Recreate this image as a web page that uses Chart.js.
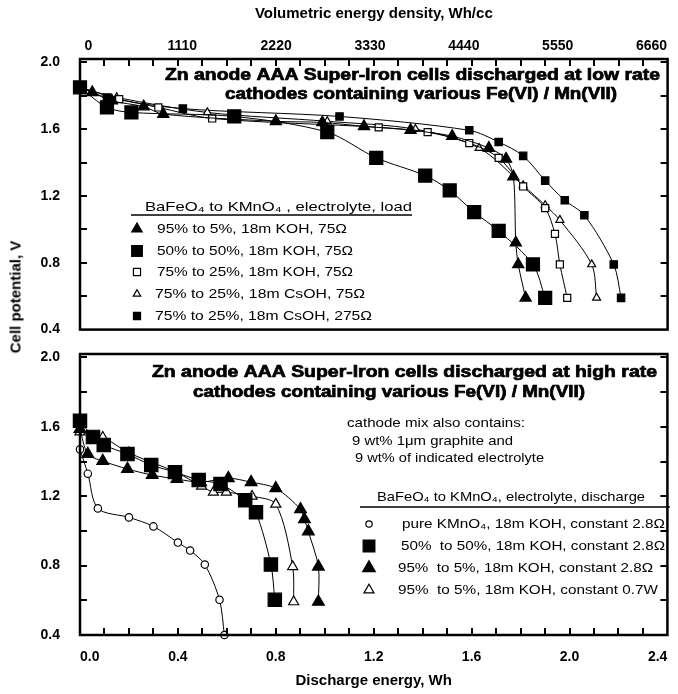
<!DOCTYPE html>
<html>
<head>
<meta charset="utf-8">
<title>Zn anode AAA Super-Iron cells</title>
<script src="https://cdn.jsdelivr.net/npm/chart.js@4.4.1/dist/chart.umd.min.js"></script>
<style>
  html, body { margin: 0; padding: 0; background: #fff; }
  #page { position: relative; width: 678px; height: 694px; overflow: hidden; }
  #page canvas { position: absolute; left: 0; }
  #ylabel {
    position: absolute; left: 15px; top: 297px;
    transform: translate(-50%, -50%) rotate(-90deg);
    font: bold 15px 'Liberation Sans', Arial, sans-serif;
    white-space: nowrap; color: #000;
  }
</style>
</head>
<body>
<div id="page">
  <canvas id="lowRate" width="678" height="340" style="top:0"></canvas>
  <canvas id="highRate" width="678" height="354" style="top:340px"></canvas>
  <div id="ylabel">Cell potential, V</div>
</div>
<script>
// Axis tick labels
const energyTicks = [0, 0.4, 0.8, 1.2, 1.6, 2.0, 2.4];
const volumetricTicks = [0, 1110, 2220, 3330, 4440, 5550, 6660];
const potentialTicks = [0.4, 0.8, 1.2, 1.6, 2.0];

// Top panel: discharged at low rate (energy in Wh, potential in V)
const lowLabels = [
    '95% to 5%, 18m KOH, 75Ω',
    '50% to 50%, 18m KOH, 75Ω',
    '75% to 25%, 18m KOH, 75Ω',
    '75% to 25%, 18m CsOH, 75Ω',
    '75% to 25%, 18m CsOH, 275Ω'
];
const low95KOH_E = [0, 0.05, 0.13, 0.26, 0.34, 0.80, 0.99, 1.16, 1.35, 1.52, 1.67, 1.74, 1.77, 1.78, 1.79, 1.82];
const low95KOH_V = [1.85, 1.82, 1.77, 1.735, 1.69, 1.647, 1.64, 1.617, 1.594, 1.558, 1.487, 1.422, 1.316, 0.92, 0.79, 0.59];
const low50KOH_E = [0, 0.11, 0.21, 0.63, 1.01, 1.21, 1.41, 1.51, 1.61, 1.71, 1.85, 1.90];
const low50KOH_V = [1.85, 1.73, 1.70, 1.676, 1.582, 1.428, 1.322, 1.233, 1.103, 0.991, 0.79, 0.59];
const low75KOH_E = [0, 0.16, 0.32, 0.54, 1.22, 1.42, 1.59, 1.71, 1.81, 1.90, 1.94, 1.96, 1.99];
const low75KOH_V = [1.85, 1.78, 1.73, 1.664, 1.611, 1.582, 1.517, 1.428, 1.257, 1.127, 0.973, 0.79, 0.59];
const low75CsOH_E = [0, 0.15, 0.52, 1.01, 1.37, 1.63, 1.81, 1.90, 1.96, 2.09, 2.11];
const low75CsOH_V = [1.85, 1.79, 1.70, 1.647, 1.60, 1.487, 1.263, 1.144, 1.056, 0.79, 0.59];
const low75CsOH275_E = [0, 0.11, 0.42, 1.06, 1.59, 1.71, 1.81, 1.90, 1.98, 2.06, 2.18, 2.21];
const low75CsOH275_V = [1.85, 1.79, 1.723, 1.676, 1.593, 1.523, 1.44, 1.292, 1.174, 1.085, 0.79, 0.59];

// Bottom panel: discharged at high rate
const highLabels = [
    'pure KMnO₄, 18m KOH, constant 2.8Ω',
    '50%  to 50%, 18m KOH, constant 2.8Ω',
    '95%  to 5%, 18m KOH, constant 2.8Ω',
    '95%  to 5%, 18m KOH, constant 0.7W'
];
const highPure_E = [0, 0.032, 0.073, 0.20, 0.30, 0.40, 0.45, 0.51, 0.57, 0.59];
const highPure_V = [1.47, 1.33, 1.13, 1.078, 1.026, 0.933, 0.887, 0.806, 0.603, 0.40];
const high50_E = [0, 0.053, 0.097, 0.194, 0.291, 0.388, 0.485, 0.574, 0.675, 0.719, 0.78, 0.796];
const high50_V = [1.635, 1.542, 1.496, 1.443, 1.38, 1.339, 1.293, 1.27, 1.177, 1.107, 0.806, 0.603];
const high95_E = [0, 0.032, 0.093, 0.194, 0.295, 0.396, 0.493, 0.606, 0.699, 0.80, 0.901, 0.917, 0.933, 0.974, 0.974];
const high95_V = [1.588, 1.443, 1.403, 1.357, 1.322, 1.299, 1.281, 1.304, 1.281, 1.246, 1.125, 1.067, 0.997, 0.794, 0.591];
const high95W_E = [0, 0.093, 0.20, 0.39, 0.497, 0.545, 0.598, 0.703, 0.80, 0.869, 0.873];
const high95W_V = [1.57, 1.54, 1.45, 1.34, 1.258, 1.223, 1.223, 1.20, 1.154, 0.794, 0.591];

const FONT = "'Liberation Sans', Arial, Helvetica, sans-serif";

// marker looks (r = plot radius, lr = legend radius)
const lowStyles = [
    { style: 'triangle', r: 6.5, lr: 6, fill: '#000' },
    { style: 'rect', r: 9.2, lr: 7.5, fill: '#000' },
    { style: 'rect', r: 5, lr: 5, fill: '#fff' },
    { style: 'triangle', r: 4.6, lr: 4.3, fill: '#fff' },
    { style: 'rect', r: 5.2, lr: 5, fill: '#000' }
];
const highStyles = [
    { style: 'circle', r: 3.7, lr: 3.2, fill: '#fff' },
    { style: 'rect', r: 9.4, lr: 8.3, fill: '#000' },
    { style: 'triangle', r: 6.8, lr: 7.3, fill: '#000' },
    { style: 'triangle', r: 5.8, lr: 5.8, fill: '#fff' }
];

// minor tick positions for the inward tick marks
const minorEnergy = [];
for (let i = 1; i < 24; i++) minorEnergy.push(i / 10);
const minorPotential = [];
for (let i = 3; i <= 10; i++) minorPotential.push(i / 5);

function series(E, V, st) {
    return {
        data: E.map((x, i) => ({ x: x, y: V[i] })),
        showLine: true,
        borderColor: '#000',
        borderWidth: 1,
        tension: 0.3,
        pointStyle: st.style,
        pointRadius: st.r,
        pointHoverRadius: st.r,
        pointBackgroundColor: st.fill,
        pointBorderColor: '#000',
        pointBorderWidth: 1.2,
        clip: false
    };
}

function fitText(ctx, text, x, y, w, font, heavy) {
    ctx.save();
    ctx.font = font;
    ctx.textAlign = 'left';
    ctx.textBaseline = 'middle';
    ctx.fillStyle = '#000';
    const m = ctx.measureText(text).width;
    ctx.translate(x, y);
    ctx.scale(w / m, 1);
    ctx.fillText(text, 0, 0);
    if (heavy) {
        ctx.strokeStyle = '#000';
        ctx.lineWidth = heavy;
        ctx.strokeText(text, 0, 0);
    }
    ctx.restore();
}

function marker(ctx, st, x, y) {
    ctx.save();
    ctx.fillStyle = st.fill;
    ctx.strokeStyle = '#000';
    ctx.lineWidth = 1.2;
    Chart.helpers.drawPoint(ctx, { pointStyle: st.style, radius: st.lr, rotation: 0, borderWidth: 1.2 }, x, y);
    ctx.restore();
}

// pixel of a value on a scale, with a fallback from the scale's own bounds
function scalePx(s, v, horizontal) {
    let p = s.getPixelForValue(v);
    if (!isFinite(p)) {
        const f = (v - s.min) / (s.max - s.min);
        p = horizontal ? s.left + f * (s.right - s.left) : s.bottom - f * (s.bottom - s.top);
    }
    return Math.round(p);
}

// inward tick marks on the panel edges
function makeEdgeTicks(edges) {
    return {
        id: 'edgeTicks',
        afterDatasetsDraw(chart) {
            const ctx = chart.ctx;
            const a = chart.chartArea;
            const sx = chart.scales.x;
            const sy = chart.scales.y;
            ctx.save();
            ctx.globalAlpha = 1;
            ctx.globalCompositeOperation = 'source-over';
            ctx.fillStyle = '#000000';
            for (const edge of edges) {
                if (edge === 'top' || edge === 'bottom') {
                    const y0 = edge === 'top' ? a.top : a.bottom - 7;
                    for (const v of minorEnergy) {
                        ctx.fillRect(scalePx(sx, v, true) - 1, y0, 2, 7);
                    }
                } else {
                    const x0 = edge === 'left' ? a.left : a.right - 7;
                    for (const v of minorPotential) {
                        ctx.fillRect(x0, scalePx(sy, v, false) - 1, 7, 2);
                    }
                }
            }
            ctx.restore();
        }
    };
}

// frame, titles and legend for one panel
function makeDecor(cfg) {
    return {
        id: 'decor',
        afterDraw(chart) {
            const { ctx, chartArea: a } = chart;
            const dy = cfg.dy;

            cfg.texts.forEach(t => fitText(ctx, t.t, t.x, t.y - dy, t.w, t.font, t.heavy));

            const lg = cfg.legend;
            fitText(ctx, lg.head, lg.headX, lg.headY - dy, lg.headW, lg.font);
            ctx.save();
            ctx.strokeStyle = '#000';
            ctx.lineWidth = 1.3;
            ctx.beginPath();
            ctx.moveTo(lg.line[0], lg.line[2] - dy);
            ctx.lineTo(lg.line[1], lg.line[2] - dy);
            ctx.stroke();
            ctx.restore();
            lg.labels.forEach((label, i) => {
                const r = lg.rows[i];
                marker(ctx, lg.styles[i], lg.symX, r.y - dy);
                fitText(ctx, label, r.x, r.y - dy, r.w, lg.font);
            });

            ctx.save();
            ctx.strokeStyle = '#000';
            ctx.lineWidth = 2.5;
            ctx.strokeRect(a.left, a.top, a.right - a.left, a.bottom - a.top);
            ctx.restore();
        }
    };
}

const tickFont = { family: FONT, size: 14, weight: 'bold' };
const titleFont = { family: FONT, size: 15, weight: 'bold' };
const panelTitleFont = 'bold 16px ' + FONT;
const legendFont = '13px ' + FONT;

function yScale(max) {
    return {
        type: 'linear', min: 0.4, max: max,
        afterBuildTicks(s) { s.ticks = potentialTicks.map(v => ({ value: v })); },
        ticks: { font: tickFont, color: '#000', padding: 12, callback: v => v.toFixed(1) },
        grid: { display: false },
        border: { display: false },
        afterFit(s) { s.width = 80; s.paddingTop = 0; s.paddingBottom = 0; }
    };
}

// top panel
new Chart(document.getElementById('lowRate'), {
    type: 'scatter',
    data: {
        datasets: [
            series(low95KOH_E, low95KOH_V, lowStyles[0]),
            series(low50KOH_E, low50KOH_V, lowStyles[1]),
            series(low75KOH_E, low75KOH_V, lowStyles[2]),
            series(low75CsOH_E, low75CsOH_V, lowStyles[3]),
            series(low75CsOH275_E, low75CsOH275_V, lowStyles[4])
        ]
    },
    options: {
        responsive: false,
        animation: false,
        layout: { padding: { left: 0, right: 4, top: 0, bottom: 0 } },
        plugins: { legend: { display: false }, tooltip: { enabled: false } },
        scales: {
            x: {
                type: 'linear', min: 0, max: 2.4,
                ticks: { display: false },
                grid: { display: false },
                border: { display: false },
                afterFit(s) { s.height = 7; s.paddingLeft = 0; s.paddingRight = 0; }
            },
            x2: {
                type: 'linear', position: 'top', min: -100, max: 6850,
                afterBuildTicks(s) { s.ticks = volumetricTicks.map(v => ({ value: v })); },
                ticks: { font: tickFont, color: '#000', padding: -4, maxRotation: 0, autoSkip: false, callback: v => String(v) },
                grid: { display: false },
                border: { display: false },
                title: { display: true, text: 'Volumetric energy density, Wh/cc', font: titleFont, color: '#000', padding: { top: 5, bottom: 0 } },
                afterFit(s) { s.height = 59; s.paddingLeft = 0; s.paddingRight = 0; }
            },
            y: yScale(2.02)
        }
    },
    plugins: [
        makeEdgeTicks(['top', 'left', 'right']),
        makeDecor({
            dy: 0,
            texts: [
                { t: 'Zn anode AAA Super-Iron cells discharged at low rate', x: 165, y: 76, w: 495, font: panelTitleFont, heavy: 0.7 },
                { t: 'cathodes containing various Fe(VI) / Mn(VII)', x: 225, y: 95, w: 392, font: panelTitleFont, heavy: 0.7 }
            ],
            legend: {
                head: 'BaFeO₄ to KMnO₄ , electrolyte, load',
                headX: 145, headY: 207, headW: 267,
                line: [131, 412, 215],
                font: legendFont,
                symX: 137,
                labels: lowLabels,
                styles: lowStyles,
                rows: [
                    { y: 229, x: 157, w: 190 },
                    { y: 251, x: 157, w: 196 },
                    { y: 272, x: 157, w: 196 },
                    { y: 294, x: 155, w: 210 },
                    { y: 316, x: 155, w: 217 }
                ]
            }
        })
    ]
});

// bottom panel
new Chart(document.getElementById('highRate'), {
    type: 'scatter',
    data: {
        datasets: [
            series(highPure_E, highPure_V, highStyles[0]),
            series(high50_E, high50_V, highStyles[1]),
            series(high95_E, high95_V, highStyles[2]),
            series(high95W_E, high95W_V, highStyles[3])
        ]
    },
    options: {
        responsive: false,
        animation: false,
        layout: { padding: { left: 0, right: 4, top: 14, bottom: 0 } },
        plugins: { legend: { display: false }, tooltip: { enabled: false } },
        scales: {
            x: {
                type: 'linear', min: 0, max: 2.4,
                afterBuildTicks(s) { s.ticks = energyTicks.map(v => ({ value: v })); },
                ticks: { font: tickFont, color: '#000', padding: 6, align: 'inner', maxRotation: 0, autoSkip: false, callback: v => v.toFixed(1) },
                grid: { display: false },
                border: { display: false },
                title: { display: true, text: 'Discharge energy, Wh', font: titleFont, color: '#000', padding: { top: 0, bottom: 4 } },
                afterFit(s) { s.height = 59; s.paddingLeft = 0; s.paddingRight = 0; }
            },
            y: yScale(2.02)
        }
    },
    plugins: [
        makeEdgeTicks(['bottom', 'left', 'right']),
        makeDecor({
            dy: 340,
            texts: [
                { t: 'Zn anode AAA Super-Iron cells discharged at high rate', x: 152, y: 373, w: 505, font: panelTitleFont, heavy: 0.7 },
                { t: 'cathodes containing various Fe(VI) / Mn(VII)', x: 193, y: 393, w: 392, font: panelTitleFont, heavy: 0.7 },
                { t: 'cathode mix also contains:', x: 347, y: 423, w: 178, font: legendFont },
                { t: '9 wt% 1μm graphite and', x: 352, y: 441, w: 161, font: legendFont },
                { t: '9 wt% of indicated electrolyte', x: 355, y: 458, w: 189, font: legendFont }
            ],
            legend: {
                head: 'BaFeO₄ to KMnO₄, electrolyte, discharge',
                headX: 377, headY: 497, headW: 268,
                line: [360, 670, 507],
                font: legendFont,
                symX: 369,
                labels: highLabels,
                styles: highStyles,
                rows: [
                    { y: 524, x: 402, w: 263 },
                    { y: 546, x: 401, w: 264 },
                    { y: 568, x: 398, w: 255 },
                    { y: 590, x: 398, w: 260 }
                ]
            }
        })
    ]
});
</script>
</body>
</html>
